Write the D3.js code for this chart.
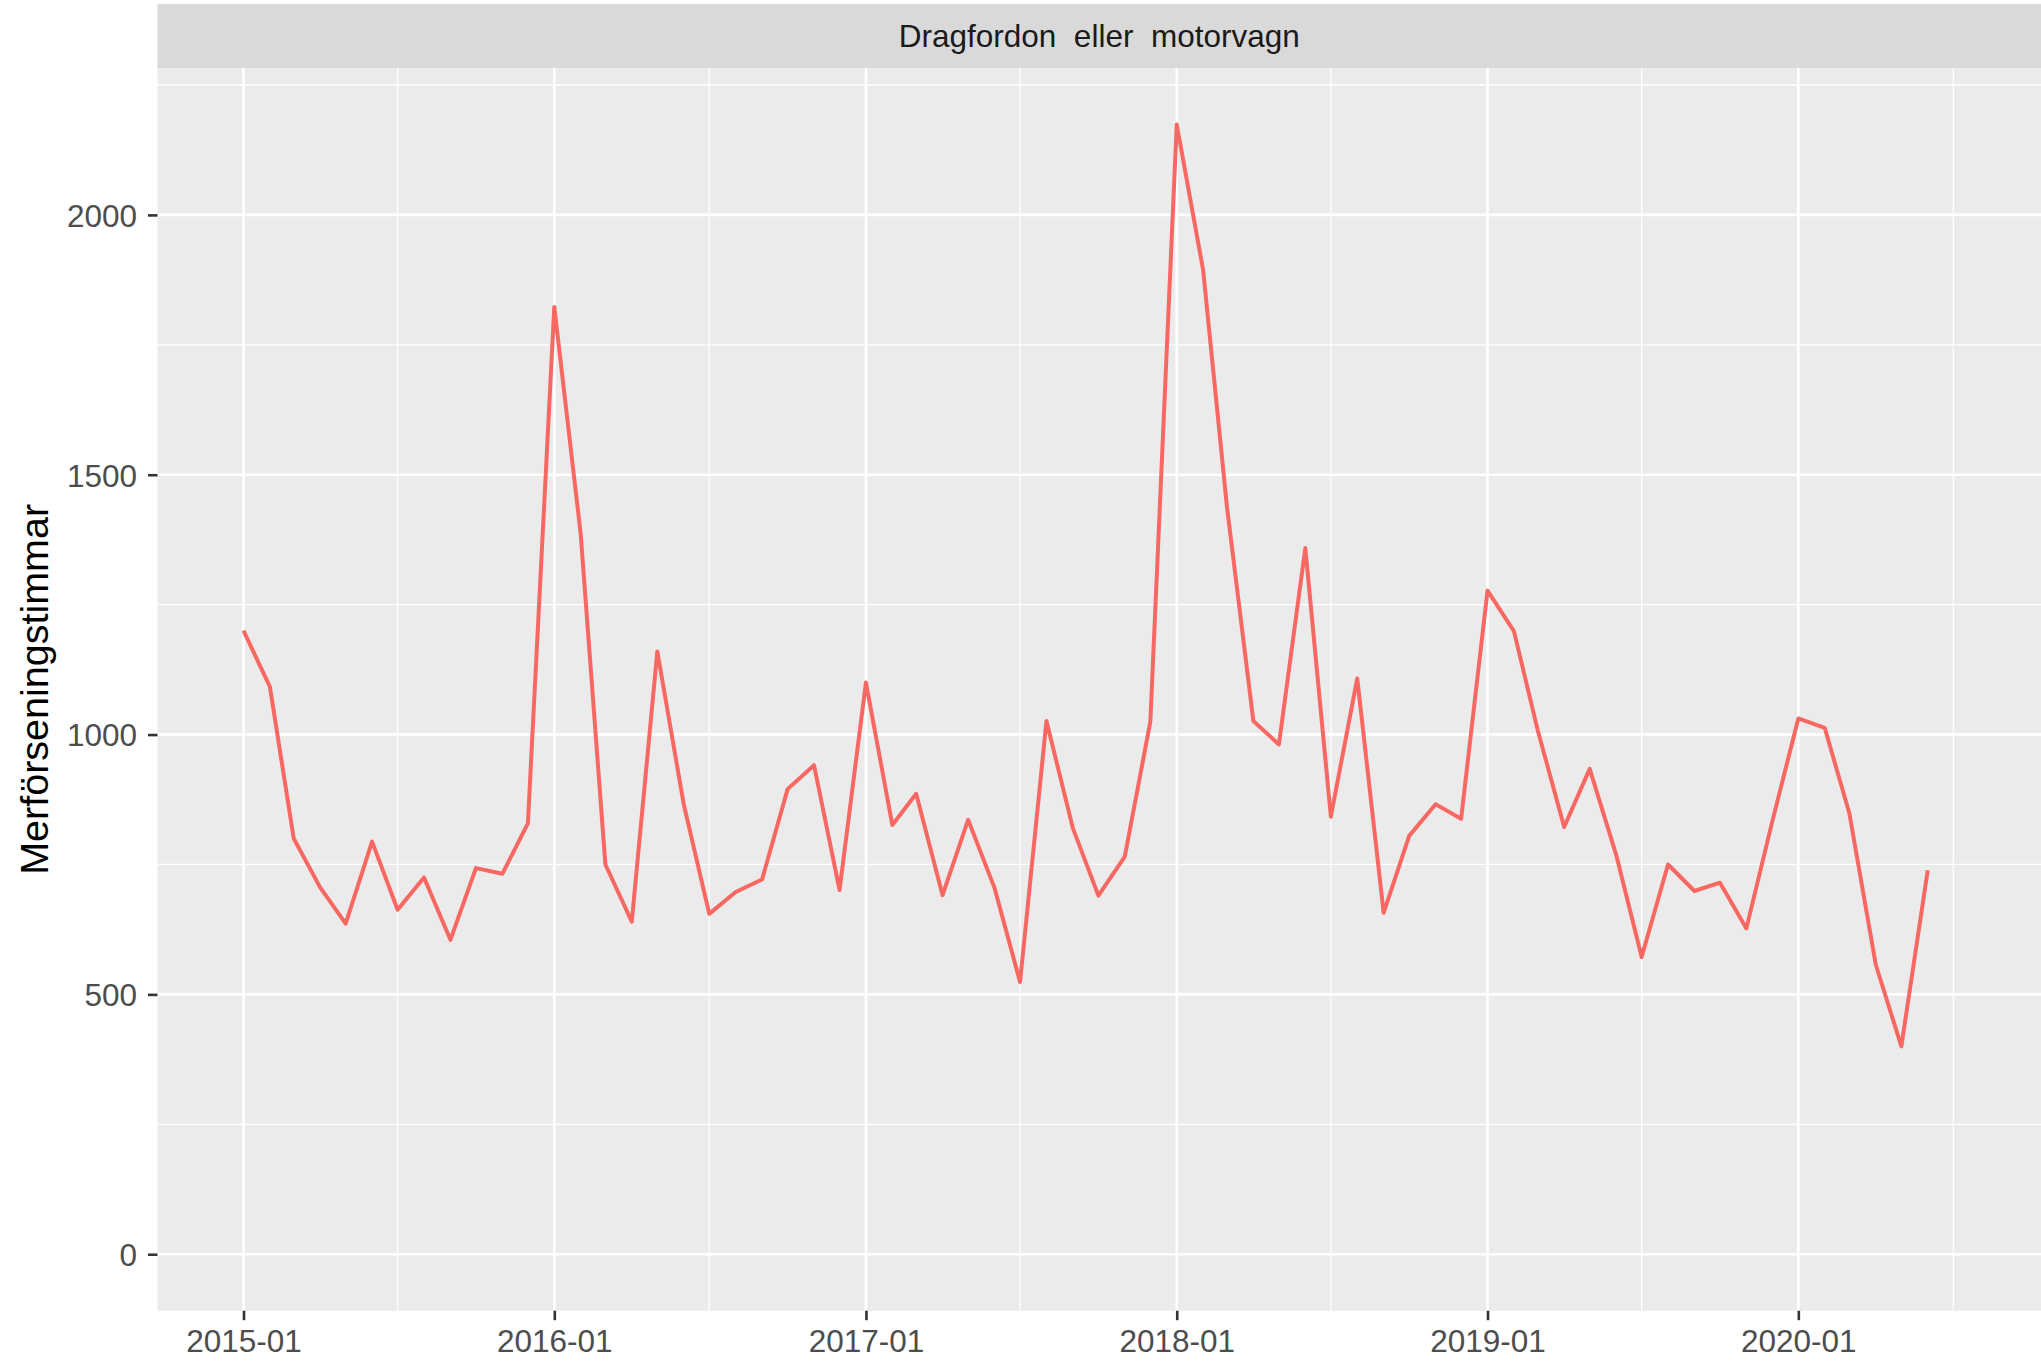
<!DOCTYPE html>
<html>
<head>
<meta charset="utf-8">
<script src="https://cdn.jsdelivr.net/npm/d3@7"></script>
<style>
  html, body { margin: 0; padding: 0; background: #ffffff; }
  svg { display: block; }
</style>
</head>
<body>
<script>
// ---------------- DATA ----------------
const months = [
  "2015-01","2015-02","2015-03","2015-04","2015-05","2015-06","2015-07","2015-08","2015-09","2015-10","2015-11","2015-12",
  "2016-01","2016-02","2016-03","2016-04","2016-05","2016-06","2016-07","2016-08","2016-09","2016-10","2016-11","2016-12",
  "2017-01","2017-02","2017-03","2017-04","2017-05","2017-06","2017-07","2017-08","2017-09","2017-10","2017-11","2017-12",
  "2018-01","2018-02","2018-03","2018-04","2018-05","2018-06","2018-07","2018-08","2018-09","2018-10","2018-11","2018-12",
  "2019-01","2019-02","2019-03","2019-04","2019-05","2019-06","2019-07","2019-08","2019-09","2019-10","2019-11","2019-12",
  "2020-01","2020-02","2020-03","2020-04","2020-05","2020-06"
];
const hours = [
  1200, 1092, 800, 706, 636, 794, 663, 725, 605, 743, 732, 829,
  1823, 1386, 750, 640, 1160, 866, 655, 697, 721, 895, 941, 701,
  1100, 826, 886, 691, 836, 705, 524, 1026, 820, 690, 765, 1025,
  2174, 1894, 1438, 1026, 981, 1359, 842, 1108, 657, 805, 866, 838,
  1277, 1199, 1008, 822, 934, 769, 572, 750, 699, 715, 627, 830,
  1031, 1013, 848, 557, 400, 739
];
const xTickLabels = ["2015-01","2016-01","2017-01","2018-01","2019-01","2020-01"];
const xMinorLabels = ["2015-07","2016-07","2017-07","2018-07","2019-07","2020-07"];
const yTicks = [0, 500, 1000, 1500, 2000];
const yMinorTicks = [250, 750, 1250, 1750, 2250];
const stripLabel = "Dragfordon  eller  motorvagn";
const yTitle = "Merförseningstimmar";

// ---------------- LAYOUT ----------------
const W = 2041, H = 1363;
const panel = { left: 157.5, right: 2041, top: 68, bottom: 1310.7 };
const stripTop = 4;
const FONT = "'Liberation Sans', Arial, Helvetica, sans-serif";

const parse = d3.utcParse("%Y-%m");
const data = months.map((m, i) => ({ date: parse(m), value: hours[i] }));

const x = d3.scaleUtc()
  .domain([d3.utcDay.offset(parse("2015-01"), -101), d3.utcDay.offset(parse("2015-01"), 2111)])
  .range([panel.left, panel.right]);

const yMax = d3.max(hours), yMin = 0;
const pad = (yMax - yMin) * 0.05;
const y = d3.scaleLinear()
  .domain([yMin - pad, yMax + pad])
  .range([panel.bottom, panel.top]);

const svg = d3.select("body").append("svg")
  .attr("width", W).attr("height", H)
  .attr("font-family", FONT);

svg.append("rect").attr("width", W).attr("height", H).attr("fill", "#ffffff");

// panel background
svg.append("rect")
  .attr("x", panel.left).attr("y", panel.top)
  .attr("width", panel.right - panel.left).attr("height", panel.bottom - panel.top)
  .attr("fill", "#EBEBEB");

// minor grid
const g = svg.append("g");
g.selectAll("line.ymin").data(yMinorTicks).join("line")
  .attr("x1", panel.left).attr("x2", panel.right)
  .attr("y1", d => y(d)).attr("y2", d => y(d))
  .attr("stroke", "#ffffff").attr("stroke-width", 1.3);
g.selectAll("line.xmin").data(xMinorLabels.map(parse)).join("line")
  .attr("y1", panel.top).attr("y2", panel.bottom)
  .attr("x1", d => x(d)).attr("x2", d => x(d))
  .attr("stroke", "#ffffff").attr("stroke-width", 1.3);

// major grid
g.selectAll("line.ymaj").data(yTicks).join("line")
  .attr("x1", panel.left).attr("x2", panel.right)
  .attr("y1", d => y(d)).attr("y2", d => y(d))
  .attr("stroke", "#ffffff").attr("stroke-width", 2.6);
const xTickDates = xTickLabels.map(parse);
g.selectAll("line.xmaj").data(xTickDates).join("line")
  .attr("y1", panel.top).attr("y2", panel.bottom)
  .attr("x1", d => x(d)).attr("x2", d => x(d))
  .attr("stroke", "#ffffff").attr("stroke-width", 2.6);

// line
const line = d3.line().x(d => x(d.date)).y(d => y(d.value));
svg.append("path")
  .datum(data)
  .attr("d", line)
  .attr("fill", "none")
  .attr("stroke", "#F86863")
  .attr("stroke-width", 4)
  .attr("stroke-linejoin", "round");

// strip
svg.append("rect")
  .attr("x", panel.left).attr("y", stripTop)
  .attr("width", panel.right - panel.left).attr("height", panel.top - stripTop)
  .attr("fill", "#D9D9D9");
svg.append("text")
  .attr("x", (panel.left + panel.right) / 2)
  .attr("y", (stripTop + panel.top) / 2)
  .attr("dy", "0.36em")
  .attr("text-anchor", "middle")
  .attr("font-size", 31.5)
  .attr("fill", "#1A1A1A")
  .style("white-space", "pre")
  .text(stripLabel);

// y axis
const yAxis = d3.axisLeft(y).tickValues(yTicks).tickSize(9.5).tickPadding(11).tickFormat(d3.format("d"));
const ya = svg.append("g").attr("transform", `translate(${panel.left},0)`).call(yAxis);
ya.select(".domain").remove();
ya.selectAll(".tick line").attr("stroke", "#333333").attr("stroke-width", 2.6);
ya.selectAll(".tick text").attr("font-size", 31.5).attr("fill", "#4D4D4D")
  .attr("font-family", FONT).attr("dy", "0.36em");

// x axis
const xAxis = d3.axisBottom(x).tickValues(xTickDates).tickSize(9.5).tickPadding(9.5)
  .tickFormat((d, i) => xTickLabels[i]);
const xa = svg.append("g").attr("transform", `translate(0,${panel.bottom})`).call(xAxis);
xa.select(".domain").remove();
xa.selectAll(".tick line").attr("stroke", "#333333").attr("stroke-width", 2.6);
xa.selectAll(".tick text").attr("font-size", 31.5).attr("fill", "#4D4D4D")
  .attr("font-family", FONT);

// y title
svg.append("text")
  .attr("transform", `translate(34,${(panel.top + panel.bottom) / 2}) rotate(-90)`)
  .attr("text-anchor", "middle")
  .attr("dy", "0.36em")
  .attr("font-size", 39.5)
  .attr("fill", "#000000")
  .text(yTitle);
</script>
</body>
</html>
